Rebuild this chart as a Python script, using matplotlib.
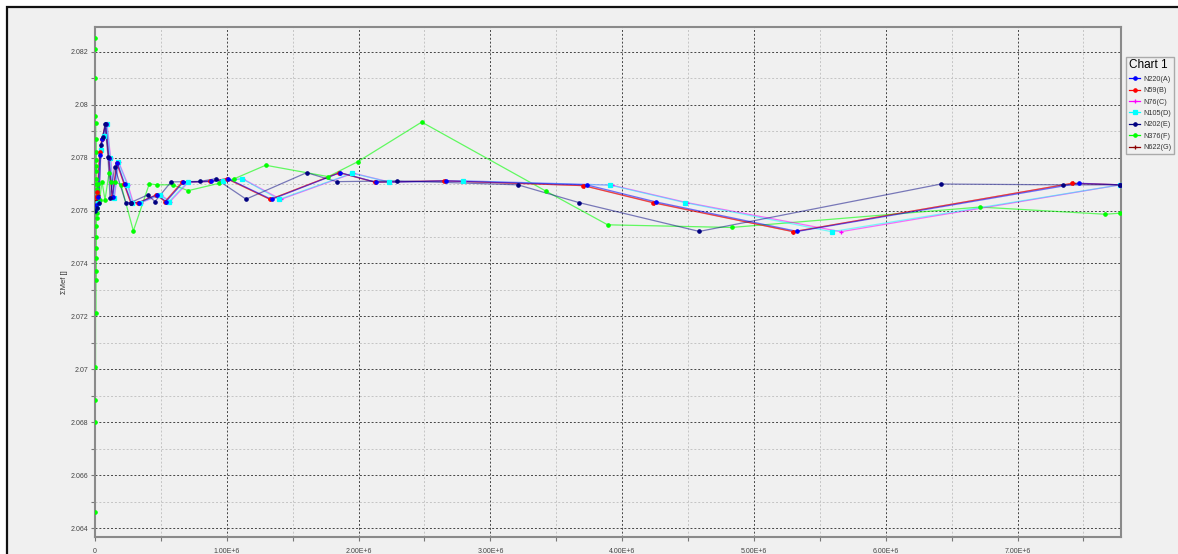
import matplotlib
matplotlib.use("Agg")
import matplotlib.pyplot as plt
from matplotlib.patches import Rectangle
from matplotlib.ticker import FixedLocator, FuncFormatter
from matplotlib.lines import Line2D

plt.rcParams['font.family'] = ['Liberation Sans', 'DejaVu Sans']

# ---- data (x in millions of steps) ----
series_names = ["N220(A)", "N59(B)", "N76(C)", "N105(D)", "N202(E)", "N376(F)", "N622(G)"]

a_x = [0.006, 0.02, 0.038, 0.055, 0.082, 0.106, 0.133, 0.17, 0.225, 0.275, 0.335, 0.47, 0.54,
       0.67, 0.88, 1.01, 1.34, 1.86, 2.13, 2.66, 3.73, 4.26, 5.33, 7.47, 7.78]
a_y = [2.0762, 2.0765, 2.0781, 2.0787, 2.07926, 2.0780, 2.0765, 2.0778, 2.0770, 2.0763, 2.0763,
       2.07659, 2.07634, 2.07707, 2.0771, 2.0772, 2.07642, 2.07743, 2.07707, 2.07712, 2.07697,
       2.07632, 2.07521, 2.07703, 2.07697]

b_x = [0.004, 0.018, 0.035, 0.052, 0.08, 0.103, 0.13, 0.165, 0.22, 0.27, 0.33, 0.465, 0.531,
       0.66, 0.87, 1.00, 1.328, 1.854, 2.124, 2.65, 3.705, 4.236, 5.298, 7.415, 7.78]
b_y = [2.0765, 2.0767, 2.0782, 2.0787, 2.07926, 2.0780, 2.0765, 2.0778, 2.0770, 2.0763, 2.0763,
       2.07659, 2.07634, 2.07707, 2.0771, 2.0772, 2.07642, 2.07743, 2.07707, 2.07712, 2.07694,
       2.07629, 2.0752, 2.07703, 2.07697]

c_x = [0.012, 0.027, 0.047, 0.068, 0.092, 0.118, 0.147, 0.18, 0.25, 0.29, 0.35, 0.50, 0.57,
       0.71, 0.98, 1.12, 1.41, 1.96, 2.24, 2.80, 3.92, 4.49, 5.66, 7.78]
c_y = [2.0761, 2.0763, 2.0783, 2.0788, 2.07926, 2.0780, 2.07647, 2.07783, 2.07697, 2.0763,
       2.0763, 2.07659, 2.07634, 2.07708, 2.07712, 2.0772, 2.07642, 2.07741, 2.07707, 2.07712,
       2.07696, 2.0763, 2.0752, 2.07697]

d_x = [0.01, 0.025, 0.045, 0.065, 0.09, 0.115, 0.144, 0.177, 0.245, 0.283, 0.341, 0.493, 0.561,
       0.703, 0.973, 1.115, 1.396, 1.952, 2.233, 2.794, 3.907, 4.474, 5.59, 7.78]
d_y = [2.0761, 2.0763, 2.0783, 2.0788, 2.07926, 2.0780, 2.07647, 2.07783, 2.07697, 2.0763,
       2.0763, 2.07659, 2.07634, 2.07708, 2.07712, 2.0772, 2.07642, 2.07741, 2.07707, 2.07712,
       2.07696, 2.0763, 2.0752, 2.07697]

e_x = [0.003, 0.015, 0.03, 0.045, 0.06, 0.075, 0.099, 0.114, 0.149, 0.233, 0.27, 0.40, 0.455,
       0.577, 0.797, 0.916, 1.146, 1.606, 1.834, 2.294, 3.209, 3.672, 4.585, 6.419, 7.342, 7.78]
e_y = [2.0760, 2.0761, 2.0763, 2.07847, 2.07878, 2.07926, 2.07802, 2.07647, 2.07765, 2.0763,
       2.0763, 2.07659, 2.07634, 2.07708, 2.0771, 2.0772, 2.07643, 2.07743, 2.07709, 2.07712,
       2.07697, 2.0763, 2.07521, 2.0770, 2.07697, 2.07697]

f_x = [0.0, 0.0005, 0.001, 0.0015, 0.002, 0.0025, 0.003, 0.0035, 0.004, 0.0045, 0.005, 0.0055,
       0.006, 0.0065, 0.007, 0.0075, 0.008, 0.0085, 0.009, 0.0095, 0.010, 0.0105, 0.011, 0.0115,
       0.012, 0.0125, 0.013, 0.0135, 0.02, 0.035, 0.053, 0.076, 0.106, 0.121, 0.152, 0.197,
       0.291, 0.412, 0.468, 0.589, 0.707, 0.943, 1.057, 1.295, 1.77, 1.996, 2.479, 3.419, 3.89,
       4.83, 6.714, 7.664, 7.78]
f_y = [2.08251, 2.06462, 2.08209, 2.06801, 2.08100, 2.06883, 2.07957, 2.07009, 2.0793, 2.07213,
       2.0787, 2.07338, 2.0782, 2.0737, 2.0779, 2.0742, 2.0777, 2.0746, 2.0775, 2.0750, 2.0772,
       2.0754, 2.0770, 2.0757, 2.0768, 2.0759, 2.0767, 2.0761, 2.0770, 2.0764, 2.07709, 2.0764,
       2.07741, 2.07709, 2.07709, 2.07697, 2.07523, 2.07701, 2.07697, 2.07697, 2.07675, 2.07703,
       2.0772, 2.07771, 2.07728, 2.07785, 2.07934, 2.07674, 2.07546, 2.07536, 2.07613, 2.07586,
       2.0759]

g_x = [0.005, 0.019, 0.036, 0.053, 0.081, 0.104, 0.131, 0.167, 0.222, 0.272, 0.332, 0.467, 0.535,
       0.665, 0.875, 1.005, 1.33, 1.856, 2.126, 2.655, 3.71, 4.24, 5.30, 7.42, 7.78]
g_y = [2.0764, 2.0766, 2.0782, 2.0787, 2.07926, 2.0780, 2.0765, 2.0778, 2.0770, 2.0763, 2.0763,
       2.07659, 2.07634, 2.07707, 2.0771, 2.0772, 2.07642, 2.07743, 2.07707, 2.07712, 2.07694,
       2.0763, 2.0752, 2.07703, 2.07697]

x_ticks = [0, 1, 2, 3, 4, 5, 6, 7]
y_ticks = [2.064, 2.066, 2.068, 2.07, 2.072, 2.074, 2.076, 2.078, 2.08, 2.082]

# ---- figure ----
W, H = 1178, 554
fig = plt.figure(figsize=(W / 100, H / 100), dpi=100, facecolor='white')

# window panel with black frame, kept behind the axes
panel = Rectangle((7 / W, -0.1), 2.0, (H - 7) / H + 0.1, transform=fig.transFigure,
                  facecolor='#f0f0f0', edgecolor='#111111', linewidth=1.6, zorder=-10)
fig.patches.append(panel)

ax = fig.add_axes([95 / W, (H - 536.7) / H, (1121 - 95) / W, (536.7 - 27.3) / H])
ax.set_zorder(1)
ax.set_facecolor('#f0f0f0')

styles = [
    dict(color='#0000ff', marker='o', ms=2.4),
    dict(color='#ff0000', marker='o', ms=2.4),
    dict(color='#ff00ff', marker='+', ms=3.2),
    dict(color='#00ffff', marker='s', ms=3.4),
    dict(color='#000080', marker='o', ms=2.4),
    dict(color='#00ff00', marker='o', ms=2.4),
    dict(color='#8b0000', marker='+', ms=3.2),
]
data = [(a_x, a_y), (b_x, b_y), (c_x, c_y), (d_x, d_y), (e_x, e_y), (f_x, f_y), (g_x, g_y)]
order = [6, 5, 2, 3, 1, 0, 4]
line_alpha = {0: 0.55, 1: 0.6, 2: 0.55, 3: 0.5, 4: 0.5, 5: 0.6, 6: 0.35}

for k, i in enumerate(order):
    xs, ys = data[i]
    st = styles[i]
    xv = [v * 1e6 for v in xs]
    ax.plot(xv, ys, color=st['color'], lw=0.9, alpha=line_alpha[i], zorder=2 + k * 0.1)
    ax.plot(xv, ys, linestyle='none', marker=st['marker'], ms=st['ms'], color=st['color'],
            mec=st['color'], mew=0.9, zorder=3 + k * 0.1)

handles = []
for i in range(7):
    st = styles[i]
    handles.append(Line2D([], [], color=st['color'], lw=0.9, marker=st['marker'],
                          ms=st['ms'], mew=0.9))

ax.set_xlim(0, 7.785e6)
ax.set_ylim(2.06368, 2.08292)

ax.xaxis.set_major_locator(FixedLocator([v * 1e6 for v in x_ticks]))
ax.xaxis.set_minor_locator(FixedLocator([(v + 0.5) * 1e6 for v in x_ticks]))
ax.xaxis.set_major_formatter(FuncFormatter(lambda v, p: "0" if v == 0 else f"{v / 1e6:.2f}E+6"))
ax.yaxis.set_major_locator(FixedLocator(y_ticks))
ax.yaxis.set_minor_locator(FixedLocator([round(v + 0.001, 3) for v in y_ticks]))
ax.yaxis.set_major_formatter(FuncFormatter(lambda v, p: f"{round(v, 3):g}"))

ax.grid(which='major', color='#444444', linestyle=(0, (2, 2)), linewidth=0.7)
ax.grid(which='minor', color='#c4c4c4', linestyle=(0, (2, 2)), linewidth=0.7)
ax.set_axisbelow(True)

ax.tick_params(which='both', direction='out', length=3, width=0.8, color='#777777',
               labelsize=5, labelcolor='#444444', pad=2)
ax.tick_params(axis='x', which='major', pad=5)
for s in ax.spines.values():
    s.set_color('#8a8a8a')
    s.set_linewidth(1.5)

ax.set_ylabel("ΣMef []", fontsize=5.5, color='#333333', labelpad=2)

leg = fig.legend(handles=handles, labels=series_names, loc='upper left',
                 bbox_to_anchor=(1126 / W, 1 - 56.5 / H), title="Chart 1",
                 fontsize=5.2, title_fontsize=8.5, frameon=True, fancybox=False,
                 handlelength=1.6, handletextpad=0.4, labelspacing=0.6,
                 borderpad=0.4, borderaxespad=0, alignment='left')
leg.set_zorder(5)
leg.get_frame().set_edgecolor('#999999')
leg.get_frame().set_facecolor('#f0f0f0')
leg.get_frame().set_linewidth(1.0)
for t in leg.get_texts():
    t.set_color('#333333')

fig.savefig("out.png", dpi=100, facecolor='white')
